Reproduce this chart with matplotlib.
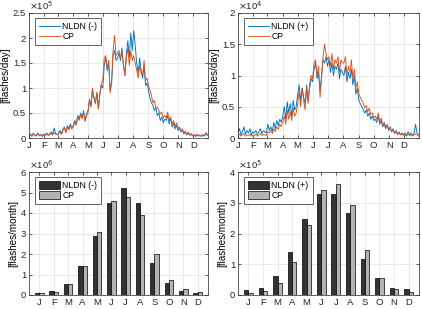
import numpy as np
import matplotlib
matplotlib.use("Agg")
import matplotlib.pyplot as plt

plt.rcParams['font.family'] = ['Liberation Sans', 'DejaVu Sans']

# Month labels and month-start days
months = ['J', 'F', 'M', 'A', 'M', 'J', 'J', 'A', 'S', 'O', 'N', 'D']
month_start = [1, 32, 60, 91, 121, 152, 182, 213, 244, 274, 305, 335]

# Daily flash counts sampled every 3 days (day 1, 4, 7, ...)
days = list(range(1, 366, 3))

# NLDN (-) and CP, x1e5 flashes/day
nldn_neg = [0.05, 0.08, 0.03, 0.10, 0.06, 0.04, 0.09, 0.05, 0.07, 0.03, 0.08,
            0.06, 0.10, 0.05, 0.08, 0.12, 0.07, 0.20, 0.09, 0.06,
            0.10, 0.15, 0.08, 0.18, 0.22, 0.12, 0.25, 0.18, 0.28, 0.20,
            0.25, 0.35, 0.28, 0.45, 0.38, 0.50, 0.40, 0.55, 0.35, 0.48,
            0.55, 0.75, 0.62, 0.95, 0.80, 0.70, 0.90, 0.60, 0.85, 1.05, 1.00,
            1.45, 1.60, 1.35, 1.50, 0.95, 1.10, 1.65, 1.75, 1.55, 1.60,
            1.70, 1.55, 1.80, 1.45, 1.25, 1.70, 1.95, 1.60, 2.10, 1.75,
            2.15, 1.85, 1.50, 1.30, 1.60, 1.35, 1.20, 1.45, 1.05, 1.10, 0.95,
            0.80, 0.70, 0.65, 0.55, 0.60, 0.45, 0.50, 0.35, 0.42, 0.30,
            0.38, 0.35, 0.45, 0.28, 0.40, 0.22, 0.30, 0.18, 0.25, 0.15,
            0.20, 0.12, 0.15, 0.08, 0.12, 0.06, 0.09, 0.05, 0.07, 0.04,
            0.05, 0.03, 0.06, 0.04, 0.05, 0.03, 0.06, 0.04, 0.10, 0.05]
cp_neg = [0.04, 0.06, 0.05, 0.09, 0.04, 0.06, 0.10, 0.04, 0.07, 0.05, 0.06,
          0.05, 0.08, 0.06, 0.07, 0.09, 0.06, 0.10, 0.08, 0.07,
          0.08, 0.12, 0.07, 0.15, 0.20, 0.10, 0.22, 0.16, 0.25, 0.18,
          0.22, 0.32, 0.25, 0.42, 0.35, 0.47, 0.38, 0.52, 0.33, 0.45,
          0.50, 0.78, 0.65, 1.00, 0.82, 0.68, 0.92, 0.58, 0.88, 1.10, 1.15,
          1.60, 1.65, 1.40, 1.55, 0.90, 1.15, 1.75, 2.05, 1.65, 1.70,
          1.75, 1.60, 1.70, 1.50, 1.25, 1.60, 1.80, 1.45, 1.75, 1.55,
          1.65, 1.50, 1.35, 1.20, 1.45, 1.30, 1.25, 1.55, 1.15, 1.20, 1.05,
          0.95, 0.85, 0.70, 0.75, 0.60, 0.62, 0.55, 0.48, 0.52, 0.40,
          0.45, 0.40, 0.52, 0.35, 0.42, 0.28, 0.35, 0.22, 0.30, 0.20,
          0.22, 0.15, 0.18, 0.10, 0.14, 0.08, 0.12, 0.07, 0.09, 0.05,
          0.07, 0.04, 0.08, 0.05, 0.06, 0.04, 0.07, 0.05, 0.11, 0.06]

# NLDN (+) and CP, x1e4 flashes/day
nldn_pos = [0.08, 0.15, 0.05, 0.10, 0.18, 0.06, 0.12, 0.08, 0.15, 0.05, 0.10,
            0.08, 0.12, 0.06, 0.10, 0.15, 0.07, 0.12, 0.10, 0.08,
            0.22, 0.12, 0.18, 0.10, 0.25, 0.15, 0.28, 0.20, 0.30, 0.25,
            0.35, 0.50, 0.30, 0.58, 0.40, 0.55, 0.35, 0.60, 0.45, 0.50,
            0.70, 0.85, 0.60, 0.80, 0.65, 0.55, 0.85, 0.60, 0.80, 0.95, 0.90,
            1.10, 1.20, 0.95, 1.05, 0.75, 1.00, 1.25, 1.20, 1.30, 1.15,
            1.25, 1.05, 1.20, 1.00, 1.15, 1.10, 1.20, 0.95, 1.10, 1.05,
            1.00, 1.15, 0.90, 1.05, 0.95, 1.10, 0.85, 1.00, 0.70, 0.80, 0.60,
            0.55, 0.50, 0.45, 0.40, 0.45, 0.35, 0.40, 0.30, 0.35, 0.28,
            0.30, 0.25, 0.35, 0.22, 0.28, 0.18, 0.22, 0.15, 0.20, 0.12,
            0.18, 0.10, 0.15, 0.08, 0.12, 0.06, 0.10, 0.05, 0.08, 0.05,
            0.08, 0.04, 0.10, 0.05, 0.08, 0.04, 0.07, 0.22, 0.08, 0.05]
cp_pos = [0.04, 0.06, 0.03, 0.05, 0.07, 0.03, 0.05, 0.04, 0.06, 0.03, 0.05,
          0.04, 0.06, 0.03, 0.05, 0.07, 0.04, 0.06, 0.05, 0.04,
          0.10, 0.08, 0.12, 0.07, 0.15, 0.10, 0.18, 0.14, 0.22, 0.18,
          0.25, 0.35, 0.22, 0.45, 0.30, 0.42, 0.28, 0.48, 0.35, 0.40,
          0.55, 0.75, 0.50, 0.80, 0.60, 0.45, 0.80, 0.55, 0.85, 1.00, 0.95,
          1.20, 1.25, 1.00, 1.15, 0.65, 0.95, 1.30, 1.50, 1.35, 1.25,
          1.30, 1.15, 1.35, 1.10, 1.25, 1.20, 1.30, 1.05, 1.25, 1.20,
          1.20, 1.30, 1.00, 1.15, 1.05, 1.25, 0.95, 1.10, 0.80, 0.90, 0.70,
          0.65, 0.60, 0.55, 0.48, 0.52, 0.42, 0.48, 0.38, 0.40, 0.32,
          0.35, 0.30, 0.40, 0.25, 0.32, 0.20, 0.25, 0.18, 0.22, 0.14,
          0.15, 0.10, 0.12, 0.07, 0.10, 0.05, 0.08, 0.05, 0.06, 0.04,
          0.05, 0.03, 0.06, 0.04, 0.05, 0.03, 0.05, 0.06, 0.05, 0.03]

# Monthly totals
monthly_nldn_neg = [0.10, 0.18, 0.55, 1.40, 2.90, 4.50, 5.22, 4.50, 1.55, 0.60, 0.20, 0.12]  # x1e6
monthly_cp_neg = [0.12, 0.17, 0.55, 1.43, 3.05, 4.58, 4.80, 3.92, 1.98, 0.75, 0.28, 0.16]
monthly_nldn_pos = [0.15, 0.23, 0.62, 1.40, 2.48, 3.27, 3.27, 2.68, 1.17, 0.56, 0.23, 0.20]  # x1e5
monthly_cp_pos = [0.08, 0.12, 0.40, 1.07, 2.27, 3.42, 3.60, 2.93, 1.47, 0.56, 0.21, 0.11]

blue = (0.0, 0.447, 0.741)
orange = (0.85, 0.325, 0.098)
dark = (0.15, 0.15, 0.15)
fs = 6.8


def style(ax, ylim, yticks, exp, ylabel):
    ax.set_ylim(ylim)
    ax.set_yticks(yticks)
    ax.set_yticklabels([f"{t:g}" for t in yticks])
    ax.tick_params(direction='in', length=2, width=0.5, labelsize=fs,
                   top=True, right=True, colors=dark, pad=2)
    ax.grid(True, color=(0.88, 0.88, 0.88), linewidth=0.5)
    ax.set_axisbelow(True)
    for s in ax.spines.values():
        s.set_color(dark)
        s.set_linewidth(0.5)
    ax.set_ylabel(ylabel, fontsize=fs + 0.3, labelpad=2)
    ax.text(0.0, 1.005, r'$\times$10$^{%d}$' % exp, transform=ax.transAxes,
            fontsize=fs, ha='left', va='bottom', color=dark)


def add_legend(ax, **kw):
    leg = ax.legend(loc='upper left', fontsize=fs - 0.6, handlelength=2.4,
                    borderpad=0.45, labelspacing=0.15, handletextpad=0.3,
                    borderaxespad=0, bbox_to_anchor=(0.035, 0.96),
                    fancybox=False, framealpha=1, **kw)
    leg.get_frame().set_edgecolor(dark)
    leg.get_frame().set_linewidth(0.5)


fig = plt.figure(figsize=(4.22, 3.09), dpi=100)
W, H = 422, 309


def add_ax(x0, y0, x1, y1):
    return fig.add_axes([x0 / W, 1 - y1 / H, (x1 - x0) / W, (y1 - y0) / H])


ax1 = add_ax(29, 13, 208, 138)
ax2 = add_ax(238, 13, 419, 138)
ax3 = add_ax(29, 172, 208, 295)
ax4 = add_ax(238, 172, 419, 295)

for ax, n, c, ylim, yt, exp, lab in [
        (ax1, nldn_neg, cp_neg, (0, 2.5), [0, 0.5, 1, 1.5, 2, 2.5], 5, 'NLDN (-)'),
        (ax2, nldn_pos, cp_pos, (0, 2), [0, 0.5, 1, 1.5, 2], 4, 'NLDN (+)')]:
    ax.plot(days, n, color=blue, lw=0.65, label=lab)
    ax.plot(days, c, color=orange, lw=0.65, label='CP')
    ax.set_xlim(1, 365)
    ax.set_xticks(month_start)
    ax.set_xticklabels(months)
    style(ax, ylim, yt, exp, '[flashes/day]')
    add_legend(ax)

x = np.arange(1, 13)
for ax, n, c, ylim, yt, exp, lab in [
        (ax3, monthly_nldn_neg, monthly_cp_neg, (0, 6), [0, 1, 2, 3, 4, 5, 6], 6, 'NLDN (-)'),
        (ax4, monthly_nldn_pos, monthly_cp_pos, (0, 4), [0, 1, 2, 3, 4], 5, 'NLDN (+)')]:
    ax.bar(x - 0.15, n, width=0.3, color=(0.2, 0.2, 0.2), edgecolor='black',
           linewidth=0.5, label=lab)
    ax.bar(x + 0.15, c, width=0.3, color=(0.7, 0.7, 0.7), edgecolor='black',
           linewidth=0.5, label='CP')
    ax.set_xlim(0.28, 12.72)
    ax.set_xticks(x)
    ax.set_xticklabels(months)
    style(ax, ylim, yt, exp, '[flashes/month]')
    add_legend(ax, handleheight=1.1)

fig.savefig('out.png', dpi=100)
